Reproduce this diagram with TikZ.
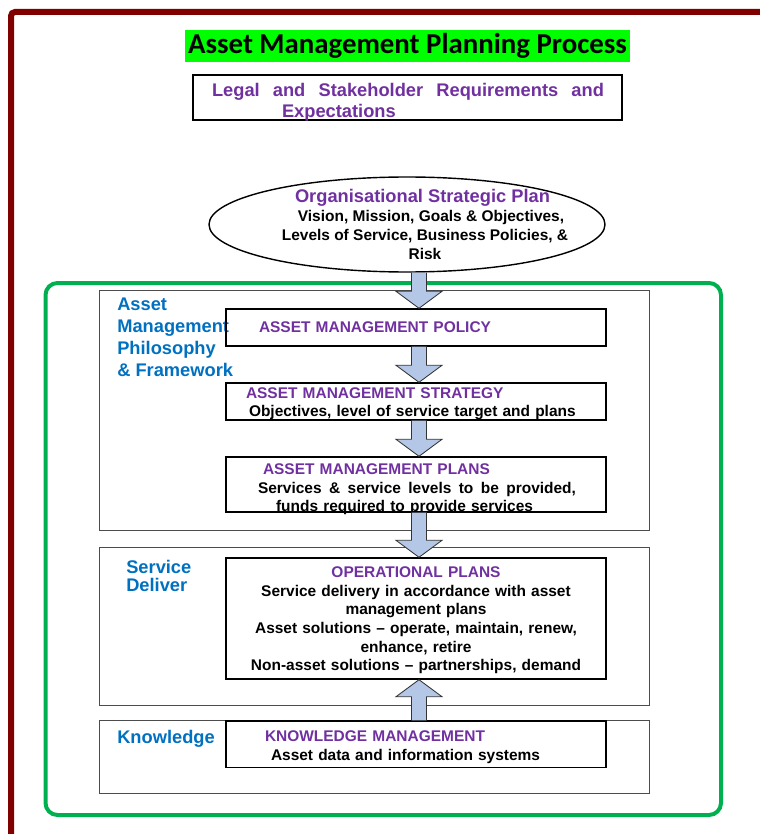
\documentclass[tikz,border=0pt]{standalone}
\usepackage{fontspec}
\setmainfont{Liberation Sans}
\newfontfamily\titlefont{Carlito}
\usetikzlibrary{shapes.geometric,calc}

\definecolor{ampurple}{HTML}{7030A0}
\definecolor{amblue}{HTML}{0070C0}
\definecolor{amgreen}{HTML}{00B050}
\definecolor{titlegreen}{HTML}{00FF00}
\definecolor{arrowfill}{HTML}{B4C7E7}
\definecolor{framered}{HTML}{800000}

\newlength{\pix}\setlength{\pix}{0.025cm}
\newcommand{\amhead}[1]{\textcolor{ampurple}{#1}}

\begin{document}
\begin{tikzpicture}[
  x=0.025cm, y=-0.025cm,
  panel/.style={draw=black!70, line width=0.7pt, minimum width=550\pix, inner sep=0pt},
  stagebox/.style={draw, line width=1pt, inner sep=0pt, text width=380\pix, minimum width=380\pix, align=left, font=\fontsize{11}{13.3}\selectfont\bfseries},
  sidelabel/.style={text=amblue, inner sep=0pt, align=left, font=\fontsize{13}{15.6}\selectfont\bfseries},
  bigarrow/.style={draw=black!80, line width=0.6pt, fill=arrowfill},
]
\useasboundingbox (0,0) rectangle (760,834);
% --- frames ---
\draw[framered, line width=6\pix, rounded corners=4\pix] (11,850) -- (11,12) -- (780,12);
\draw[amgreen, line width=4\pix, rounded corners=12\pix] (45.5,283) rectangle (721,815);
% --- top ---
\node[fill=titlegreen, minimum width=445\pix, minimum height=32\pix, inner sep=0pt, font=\titlefont\bfseries\fontsize{20.5}{24}\selectfont] (title) at (407.5,46) {Asset Management Planning Process};
\node[draw, line width=1pt, minimum width=429\pix, minimum height=45\pix, text width=429\pix, text height=0pt, text depth=1.1pt, inner sep=0pt, align=left, text=ampurple, font=\fontsize{13}{15}\selectfont\bfseries] (legal) at (407.5,97.5) {\hspace*{19\pix}\makebox[392\pix]{Legal\hfill and\hfill Stakeholder\hfill Requirements\hfill and}\\\hspace*{89\pix}Expectations};
\node[draw, ellipse, line width=1pt, minimum width=396\pix, minimum height=95\pix, inner sep=0pt] (osp) at (407,224.5) {};
\node[inner sep=0pt, align=center, font=\fontsize{11}{13.3}\selectfont\bfseries] (ospText) at (425,224.5) {{\color{ampurple}\fontsize{13}{13.3}\selectfont Organisational Strategic Plan\hspace*{5\pix}}\\\hspace*{12\pix}Vision, Mission, Goals \& Objectives,\\Levels of Service, Business Policies, \&\\Risk};
% --- panels ---
\node[panel, minimum height=240.5\pix] (philPanel) at (374,410.25) {};
\node[panel, minimum height=158\pix] (servPanel) at (374,626) {};
\node[panel, minimum height=73.5\pix] (knowPanel) at (374,756.75) {};
\node[sidelabel, anchor=north west] (philLabel) at (117,298) {Asset\\Management\\Philosophy\\\& Framework};
\node[sidelabel, font=\fontsize{13}{12.8}\selectfont\bfseries, anchor=north west] (servLabel) at (126,559.5) {Service\\Deliver};
\node[sidelabel, anchor=base west] (knowLabel) at (117,743.5) {Knowledge};
% --- stages ---
\node[stagebox, minimum height=37\pix] (policy) at (416,327.5) {\hspace*{33\pix}\amhead{ASSET MANAGEMENT POLICY}};
\node[stagebox, minimum height=37\pix, text height=0pt, text depth=3.6pt, font=\fontsize{11}{12.8}\selectfont\bfseries] (strategy) at (416,401.5) {\hspace*{20\pix}\amhead{ASSET MANAGEMENT STRATEGY}\\\hspace*{23\pix}Objectives, level of service target and plans};
\node[stagebox, minimum height=55\pix, text height=0pt, text depth=14.5pt] (plans) at (416,484.5) {\hspace*{37\pix}\amhead{ASSET MANAGEMENT PLANS}\\\hspace*{32\pix}\makebox[318\pix]{Services\hfill \&\hfill service\hfill levels\hfill to\hfill be\hfill provided,}\\\hspace*{50\pix}funds required to provide services};
\node[stagebox, align=center, minimum height=121\pix, text height=0pt, text depth=58.6pt] (oper) at (416,618.5) {\amhead{OPERATIONAL PLANS}\\Service delivery in accordance with asset\\management plans\\Asset solutions -- operate, maintain, renew,\\enhance, retire\\Non-asset solutions -- partnerships, demand};
\node[stagebox, minimum height=46.5\pix, text height=0pt, text depth=3.3pt] (km) at (416,744.25) {\hspace*{39\pix}\amhead{KNOWLEDGE MANAGEMENT}\\\hspace*{45\pix}Asset data and information systems};
% --- block arrows ---
\coordinate (ax) at (419,0);
\foreach \from/\to in {osp.south/policy.north, policy.south/strategy.north, strategy.south/plans.north, plans.south/oper.north, km.north/oper.south}
  \draw[bigarrow] let \p1=(\from -| ax), \p2=(\to -| ax), \n1={sign(\y1-\y2)} in
    ({\x1-7.5*\pix},\y1) -- ({\x1-7.5*\pix},{\y2+\n1*17*\pix}) -- ({\x1-23*\pix},{\y2+\n1*17*\pix}) -- (\x2,\y2)
    -- ({\x1+23*\pix},{\y2+\n1*17*\pix}) -- ({\x1+7.5*\pix},{\y2+\n1*17*\pix}) -- ({\x1+7.5*\pix},\y1);
\end{tikzpicture}
\end{document}
